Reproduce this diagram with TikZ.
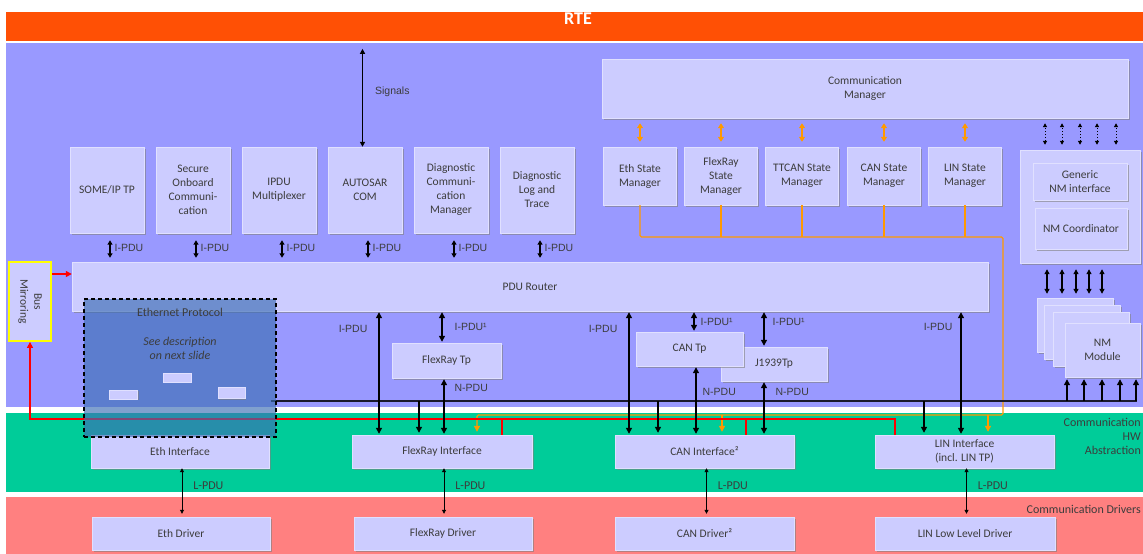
\documentclass[tikz,border=0pt]{standalone}
\usepackage{fontspec}
\setmainfont{Carlito}
\newfontfamily\pdufont{Liberation Sans}
\usepackage{tikz}
\usetikzlibrary{arrows.meta, positioning, calc, shadows}
\definecolor{rtecolor}{RGB}{255, 80, 5}
\definecolor{bswcolor}{RGB}{153, 153, 255}
\definecolor{hwcolor}{RGB}{0, 204, 153}
\definecolor{drvcolor}{RGB}{255, 128, 128}
\definecolor{boxcolor}{RGB}{204, 204, 255}
\definecolor{textcolor}{RGB}{60, 60, 60}
\definecolor{smcolor}{RGB}{255, 153, 0}
\definecolor{buscolor}{RGB}{25, 25, 45}
\definecolor{ethcolor}{RGB}{60, 110, 180}
\definecolor{mirrorcolor}{RGB}{255, 0, 0}
\definecolor{mirrorframe}{RGB}{255, 255, 0}
\tikzstyle{layer} = [rectangle, inner sep=0pt, minimum width=1137pt]
\tikzstyle{module} = [rectangle, draw=boxcolor!60!white, line width=0.4pt, fill=boxcolor, text=textcolor, align=center, inner sep=1pt, font=\fontsize{11.5}{14}\selectfont, drop shadow={shadow xshift=1.5pt, shadow yshift=-1.5pt, fill=black!50, opacity=0.6}]
\tikzstyle{minibox} = [rectangle, draw=boxcolor!60!white, line width=0.4pt, fill=boxcolor, inner sep=0pt, drop shadow={shadow xshift=1pt, shadow yshift=-1pt, fill=black!50, opacity=0.6}]
\tikzstyle{pdulabel} = [text=textcolor, inner sep=0pt, font=\pdufont\fontsize{10.5}{12}\selectfont]
\tikzstyle{lpdulabel} = [text=textcolor, inner sep=0pt, font=\fontsize{12}{14}\selectfont]
\tikzstyle{layerlabel} = [text=textcolor, inner sep=0pt, align=right, font=\fontsize{12}{14}\selectfont]
\tikzstyle{ethtext} = [text=textcolor, inner sep=0pt, align=center, font=\fontsize{12}{14}\selectfont]
\tikzstyle{pdu} = [line width=1.3pt, draw=black, arrows={Triangle[length=6pt,width=6pt]-Triangle[length=6pt,width=6pt]}, shorten <=1pt, shorten >=1pt]
\tikzstyle{smallpdu} = [line width=1.2pt, draw=black, arrows={Triangle[length=4.5pt,width=5pt]-Triangle[length=4.5pt,width=5pt]}, shorten <=7pt, shorten >=4pt]
\tikzstyle{signal} = [line width=1.2pt, draw=black, arrows={Triangle[length=5pt,width=5pt]-Triangle[length=5pt,width=5pt]}, shorten <=6pt]
\tikzstyle{busline} = [line width=1.3pt, draw=buscolor]
\tikzstyle{busdrop} = [line width=1.3pt, draw=black, -{Triangle[length=6pt,width=6pt]}, shorten >=2pt]
\tikzstyle{lpdu} = [line width=0.8pt, draw=black, arrows={Triangle[length=4pt,width=4pt]-Triangle[length=4pt,width=4pt]}, shorten >=3pt]
\tikzstyle{smline} = [line width=1.2pt, draw=smcolor]
\tikzstyle{smarrow} = [smline, -{Triangle[length=6pt,width=6pt]}, shorten >=3pt]
\tikzstyle{smdouble} = [line width=1.3pt, draw=smcolor, arrows={Triangle[length=5pt,width=6pt]-Triangle[length=5pt,width=6pt]}, shorten <=5pt, shorten >=5pt]
\tikzstyle{nmdotted} = [line width=1pt, draw=black, dotted, arrows={Triangle[length=4pt,width=4pt]-Triangle[length=4pt,width=4pt]}, shorten <=5pt, shorten >=5pt]
\tikzstyle{nmdouble} = [line width=1.2pt, draw=black, arrows={Triangle[length=5pt,width=5pt]-Triangle[length=5pt,width=5pt]}, shorten <=6pt, shorten >=4pt]
\tikzstyle{mirrorline} = [line width=1.2pt, draw=mirrorcolor]
\tikzstyle{mirror} = [mirrorline, -{Triangle[length=6pt,width=6pt]}]
\tikzstyle{ethproto} = [rectangle, draw=black, line width=1.3pt, dash pattern=on 4pt off 3pt, fill=ethcolor, fill opacity=0.65, minimum width=192pt, minimum height=138pt]

\begin{document}
\begin{tikzpicture}[x=1pt, y=-1pt]
    \useasboundingbox (0,0) rectangle (1143,554);
    \fill[white] (0,0) rectangle (1143,554);

    % Layers
    \node[layer, fill=rtecolor, minimum height=29pt] (rte) at (574.5, 26.5) {};
    \node[text=white, inner sep=0pt, font=\bfseries\fontsize{18}{20}\selectfont] (rtetitle) at (578, 19) {RTE};
    \node[layer, fill=bswcolor, minimum height=364pt] (bsw) at (574.5, 225) {};
    \node[layer, fill=hwcolor, minimum height=79pt] (hwa) at (574.5, 452.5) {};
    \node[layer, fill=drvcolor, minimum height=57pt] (drv) at (574.5, 525.5) {};
    \node[layerlabel, anchor=north east] (hwalbl) at (1141, 418) {Communication\\HW\\Abstraction};
    \node[layerlabel, anchor=east] (drvlbl) at (1141, 509) {Communication Drivers};

    % Upper layer modules
    \node[module, minimum width=74pt, minimum height=86pt] (someip) at (107, 190) {SOME/IP TP};
    \node[module, minimum width=74pt, minimum height=86pt] (secoc) at (193, 190) {Secure\\Onboard\\Communi-\\cation};
    \node[module, minimum width=74pt, minimum height=86pt] (ipdum) at (279, 190) {IPDU\\Multiplexer};
    \node[module, minimum width=74pt, minimum height=86pt] (com) at (365, 190) {AUTOSAR\\COM};
    \node[module, minimum width=74pt, minimum height=86pt] (dcm) at (451, 190) {Diagnostic\\Communi-\\cation\\Manager};
    \node[module, minimum width=74pt, minimum height=86pt] (dlt) at (537, 190) {Diagnostic\\Log and\\Trace};

    % Router
    \node[module, minimum width=916pt, minimum height=49pt] (router) at (530, 286.5) {PDU Router};
    \node[rectangle, draw=mirrorframe, line width=1.8pt, fill=boxcolor, minimum width=42pt, minimum height=79pt] (busmirror) at (30, 301.5) {};
    \node[rotate=-90, align=center, text=textcolor, inner sep=0pt, font=\fontsize{11.5}{14}\selectfont] (busmirrorlbl) at (busmirror.center) {Bus\\Mirroring};

    % State managers
    \node[module, minimum width=526pt, minimum height=59pt] (cm) at (865, 88.5) {Communication\\Manager};
    \node[module, minimum width=73pt, minimum height=58pt] (ethsm) at (640, 176) {Eth State\\Manager};
    \node[module, minimum width=73pt, minimum height=58pt] (frsm) at (721, 176) {FlexRay\\State\\Manager};
    \node[module, minimum width=73pt, minimum height=58pt] (ttcansm) at (802, 176) {TTCAN State\\Manager};
    \node[module, minimum width=73pt, minimum height=58pt] (cansm) at (884, 176) {CAN State\\Manager};
    \node[module, minimum width=73pt, minimum height=58pt] (linsm) at (965, 176) {LIN State\\Manager};

    % Network management
    \node[module, minimum width=120pt, minimum height=113pt] (nm) at (1080, 206.5) {};
    \node[module, minimum width=94pt, minimum height=37pt] (nmif) at (1080, 181.5) {Generic\\NM interface};
    \node[module, minimum width=92pt, minimum height=41pt] (nmcoord) at (1081, 228.5) {NM Coordinator};
    \node[module, minimum width=76pt, minimum height=54pt] (nm1) at (1075, 325) {};
    \node[module, minimum width=76pt, minimum height=54pt] (nm2) at (1082, 332) {};
    \node[module, minimum width=76pt, minimum height=54pt] (nm3) at (1091, 339) {};
    \node[module, minimum width=75pt, minimum height=54pt] (nm4) at (1102.5, 350) {NM\\Module};

    % Transport protocols
    \node[module, minimum width=109pt, minimum height=35pt] (frtp) at (446.5, 360.5) {FlexRay Tp};
    \node[module, minimum width=106pt, minimum height=34pt] (j1939) at (774, 364) {J1939Tp};
    \node[module, minimum width=107pt, minimum height=34pt] (cantp) at (689.5, 349) {CAN Tp};

    % Interfaces and drivers
    \node[module, minimum width=178pt, minimum height=33pt] (ethif) at (180, 451.5) {Eth Interface};
    \node[module, minimum width=180pt, minimum height=33pt] (frif) at (442, 451.5) {FlexRay Interface};
    \node[module, minimum width=179pt, minimum height=33pt] (canif) at (704.5, 451.5) {CAN Interface²};
    \node[module, minimum width=179pt, minimum height=33pt] (linif) at (964.5, 451.5) {LIN Interface\\(incl. LIN TP)};
    \node[module, minimum width=178pt, minimum height=33pt] (ethdrv) at (181, 533.5) {Eth Driver};
    \node[module, minimum width=178pt, minimum height=33pt] (frdrv) at (443, 533.5) {FlexRay Driver};
    \node[module, minimum width=179pt, minimum height=33pt] (candrv) at (704.5, 533.5) {CAN Driver²};
    \node[module, minimum width=180pt, minimum height=33pt] (lindrv) at (965, 533.5) {LIN Low Level Driver};

    % Bus points
    \coordinate (busL) at (271, 401);
    \coordinate (busR) at (1137, 401);
    \coordinate (smbusR) at (1003, 237);
    \coordinate (smdropR) at (1003, 415);
    \coordinate (mirrorbus) at (30, 419);
    \coordinate (mirrorout) at ([yshift=27.5pt]busmirror.east);

    % Orange state manager lines
    \foreach \sm in {ethsm, frsm, ttcansm, cansm, linsm}
        \draw[smdouble] (\sm.north |- cm.south) -- (\sm.north);
    \draw[smarrow, rounded corners=1.5pt] (ethsm.south) |- (smbusR) -- (smdropR) -| ([xshift=35pt]frif.north);
    \foreach \sm in {frsm, ttcansm, cansm, linsm}
        \draw[smline] (\sm.south) -- (\sm.south |- smbusR);
    \draw[smarrow] ([xshift=17.5pt]canif.north |- smdropR) -- ([xshift=17.5pt]canif.north);
    \draw[smarrow] ([xshift=23.5pt]linif.north |- smdropR) -- ([xshift=23.5pt]linif.north);

    % Bus mirroring
    \draw[mirror] ([xshift=-69.5pt]linif.north) |- (mirrorbus) -- (busmirror.south);
    \draw[mirrorline] ([xshift=60pt]frif.north) -- ([xshift=60pt]frif.north |- mirrorbus);
    \draw[mirrorline] ([xshift=41.5pt]canif.north) -- ([xshift=41.5pt]canif.north |- mirrorbus);
    \draw[mirror] (mirrorout) -- (mirrorout -| router.west);

    % Signals and I-PDUs
    \draw[signal] ([xshift=-2.5pt]com.north |- bsw.north) -- ([xshift=-2.5pt]com.north)
        node[pdulabel, pos=0.47, right=12pt] (siglbl) {Signals};
    \foreach \m in {someip, secoc, ipdum, com, dcm, dlt}
        \draw[smallpdu] ([xshift=3pt]\m.south) -- ([xshift=3pt]\m.south |- router.north)
            node[pdulabel, midway, right=4pt] (ipdu\m) {I-PDU};

    % NM arrows
    \foreach \dx in {-35, -18, 0, 17, 36}
        \draw[nmdotted] ([xshift=\dx pt]nm.north) -- ([xshift=\dx pt]nm.north |- cm.south);
    \foreach \dx in {-33, -18, -4, 9, 22}
        \draw[nmdouble] ([xshift=\dx pt]nm.south) -- ([xshift=\dx pt]nm.south |- nm1.north);

    % Bus
    \draw[busline] (busL) -- (busR);
    \foreach \dx in {-35.5, -18.5, -0.5, 17.5, 33.5}
        \draw[busdrop] ([xshift=\dx pt]nm4.south |- busR) -- ([xshift=\dx pt]nm4.south);
    \draw[busdrop] ([xshift=-23pt]frif.north |- busL) -- ([xshift=-23pt]frif.north);
    \draw[busdrop] ([xshift=-46.5pt]canif.north |- busL) -- ([xshift=-46.5pt]canif.north);
    \draw[busdrop] ([xshift=-40.5pt]linif.north |- busL) -- ([xshift=-40.5pt]linif.north);

    % FlexRay path
    \draw[pdu] ([xshift=-63pt]frif.north |- router.south) -- ([xshift=-63pt]frif.north)
        node[pdulabel, pos=0.145, left=11pt] (ipdufr) {I-PDU};
    \draw[pdu] ([xshift=-4.5pt]frtp.north |- router.south) -- ([xshift=-4.5pt]frtp.north)
        node[pdulabel, midway, right=12pt] (ipdufrtp) {I-PDU¹};
    \draw[pdu] ([xshift=-2.5pt]frtp.south) -- ([xshift=-2.5pt]frtp.south |- frif.north)
        node[pdulabel, pos=0.18, right=10pt] (npdufrtp) {N-PDU};

    % CAN path
    \draw[pdu] ([xshift=-75.5pt]canif.north |- router.south) -- ([xshift=-75.5pt]canif.north)
        node[pdulabel, pos=0.144, left=11pt] (ipducan) {I-PDU};
    \draw[pdu] ([xshift=4.5pt]cantp.north |- router.south) -- ([xshift=4.5pt]cantp.north)
        node[pdulabel, midway, right=6pt] (ipducantp) {I-PDU¹};
    \draw[pdu] ([xshift=-10pt]j1939.north |- router.south) -- ([xshift=-10pt]j1939.north)
        node[pdulabel, pos=0.3, right=8pt] (ipduj1939) {I-PDU¹};
    \draw[pdu] ([xshift=6.5pt]cantp.south) -- ([xshift=6.5pt]cantp.south |- canif.north)
        node[pdulabel, pos=0.37, right=6pt] (npducantp) {N-PDU};
    \draw[pdu] ([xshift=-10pt]j1939.south) -- ([xshift=-10pt]j1939.south |- canif.north)
        node[pdulabel, pos=0.2, right=11pt] (npduj1939) {N-PDU};

    % LIN path
    \draw[pdu] ([xshift=-3.5pt]linif.north |- router.south) -- ([xshift=-3.5pt]linif.north)
        node[pdulabel, pos=0.13, left=8pt] (ipdulin) {I-PDU};

    % L-PDUs
    \foreach \ifc/\drv in {ethif/ethdrv, frif/frdrv, canif/candrv, linif/lindrv}
        \draw[lpdu] ([xshift=2pt]\ifc.south) -- ([xshift=2pt]\ifc.south |- \drv.north)
            node[lpdulabel, pos=0.35, right=11pt] (lpdu\ifc) {L-PDU};

    % Ethernet protocol overlay
    \node[ethproto] (ethproto) at (180, 368) {};
    \node[ethtext] (ethtitle) at (180, 312) {Ethernet Protocol};
    \node[ethtext, font=\itshape\fontsize{12}{14}\selectfont] (ethnote) at (180, 348) {See description\\on next slide};
    \node[minibox, minimum width=28pt, minimum height=9pt] (ethmodA) at (177, 377.5) {};
    \node[minibox, minimum width=28pt, minimum height=9pt] (ethmodB) at (123.5, 394.5) {};
    \node[minibox, minimum width=27pt, minimum height=11pt] (ethmodC) at (231.5, 393) {};
\end{tikzpicture}
\end{document}
